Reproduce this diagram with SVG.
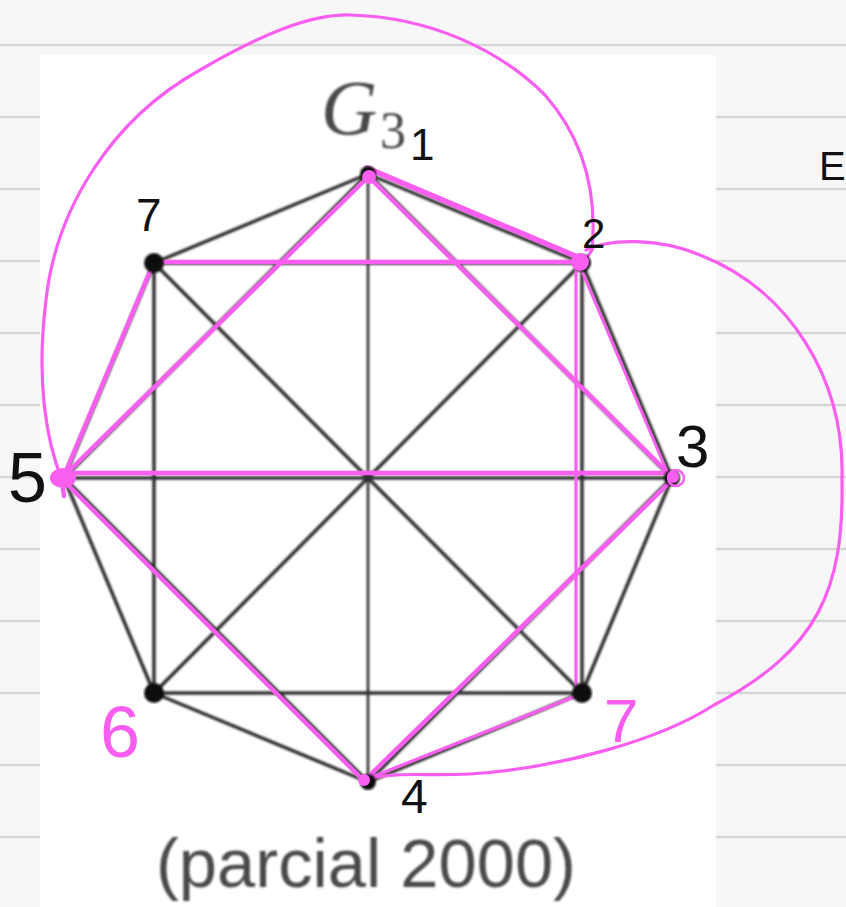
<svg xmlns="http://www.w3.org/2000/svg" width="846" height="907" viewBox="0 0 846 907">
<defs>
<style>
.rule{stroke:#d6d6d6;stroke-width:2.5}
.bk{stroke:#2e2e2e;stroke-width:3.5;stroke-linecap:round;fill:none}
.bkt{stroke:#2e2e2e;stroke-width:2.6;fill:none}
.dot{fill:#111}
.mg{stroke:#f95ef0;stroke-width:4.5;stroke-linecap:round;stroke-linejoin:round;fill:none}
.mgc{stroke:#f95ef0;stroke-width:3.2;stroke-linecap:round;fill:none}
.mdot{fill:#f95ef0}
.hw{font-family:"Liberation Sans",Arial,sans-serif;fill:#111}
.hwm{font-family:"Liberation Sans",Arial,sans-serif;fill:#f95ef0}
.print{fill:#4a4a4a}
</style>
<filter id="soft" x="-5%" y="-5%" width="110%" height="110%"><feGaussianBlur stdDeviation="0.9"/></filter>
<filter id="softer" x="-5%" y="-5%" width="110%" height="110%"><feGaussianBlur stdDeviation="1.3"/></filter>
</defs>
<rect x="0" y="0" width="846" height="907" fill="#f7f7f7"/>
<g id="ruling">
<line class="rule" x1="0" y1="45" x2="846" y2="45"/>
<line class="rule" x1="0" y1="117" x2="846" y2="117"/>
<line class="rule" x1="0" y1="189" x2="846" y2="189"/>
<line class="rule" x1="0" y1="261" x2="846" y2="261"/>
<line class="rule" x1="0" y1="333" x2="846" y2="333"/>
<line class="rule" x1="0" y1="405" x2="846" y2="405"/>
<line class="rule" x1="0" y1="477" x2="846" y2="477"/>
<line class="rule" x1="0" y1="549" x2="846" y2="549"/>
<line class="rule" x1="0" y1="621" x2="846" y2="621"/>
<line class="rule" x1="0" y1="693" x2="846" y2="693"/>
<line class="rule" x1="0" y1="765" x2="846" y2="765"/>
<line class="rule" x1="0" y1="837" x2="846" y2="837"/>
</g>
<rect x="40" y="55" width="676" height="852" fill="#ffffff"/>

<g id="connectors">
<g id="black-edges" filter="url(#soft)">
<line class="bk" x1="368" y1="174" x2="154" y2="263"/>
<line class="bk" x1="368" y1="174" x2="582" y2="263"/>
<line class="bk" x1="154" y1="263" x2="64" y2="478"/>
<line class="bk" x1="582" y1="263" x2="672" y2="478"/>
<line class="bk" x1="64" y1="478" x2="154" y2="693"/>
<line class="bk" x1="672" y1="478" x2="582" y2="693"/>
<line class="bk" x1="154" y1="693" x2="368" y2="782"/>
<line class="bk" x1="582" y1="693" x2="368" y2="782"/>
<line class="bk" x1="154" y1="263" x2="582" y2="263"/>
<line class="bk" x1="154" y1="263" x2="154" y2="693"/>
<line class="bk" x1="582" y1="263" x2="582" y2="693"/>
<line class="bk" x1="154" y1="693" x2="582" y2="693"/>
<line class="bkt" x1="368" y1="174" x2="368" y2="782"/>
<line class="bk" x1="64" y1="478" x2="672" y2="478"/>
<line class="bk" x1="154" y1="263" x2="582" y2="693"/>
<line class="bk" x1="582" y1="263" x2="154" y2="693"/>
<line class="bk" x1="368" y1="174" x2="64" y2="478"/>
<line class="bk" x1="368" y1="174" x2="672" y2="478"/>
<line class="bk" x1="64" y1="478" x2="368" y2="782"/>
<line class="bk" x1="672" y1="478" x2="368" y2="782"/>
</g>
<g id="pink-edges">
<line class="mg" x1="367" y1="168" x2="580" y2="258" style="stroke-width:5.5"/>
<line class="mg" x1="368" y1="177" x2="63" y2="477"/>
<line class="mg" x1="369" y1="177" x2="669" y2="474"/>
<line class="mg" x1="154" y1="262" x2="578" y2="262"/>
<line class="mg" x1="154" y1="262" x2="64" y2="476"/>
<line class="mg" x1="579" y1="264" x2="668" y2="474" style="stroke-width:3"/>
<path class="mg" d="M576,264 V696 L372,777" style="stroke-width:3.2"/>
<line class="mg" x1="66" y1="473" x2="670" y2="473"/>
<line class="mg" x1="63" y1="480" x2="361" y2="778"/>
<line class="mg" x1="672" y1="480" x2="367" y2="778"/>
<path class="mgc" d="M62,480 C46,440 36,380 46,300 C56,210 110,120 200,70 C260,35 310,14 350,15 C430,17 500,50 545,95 C580,135 598,185 592,250 L584,262"/>
<path class="mgc" d="M586,250 C610,238 660,238 700,255 C790,290 845,380 842,480 C844,590 818,650 714,705 C660,740 560,768 470,774 C430,776 395,772 372,778"/>
</g>
</g>

<g id="v1"><circle class="dot" cx="368" cy="174" r="8" filter="url(#soft)"/><circle class="mdot" cx="369" cy="177" r="7"/></g>
<g id="v2"><circle class="dot" cx="582" cy="263" r="9" filter="url(#soft)"/><circle class="mdot" cx="580" cy="262" r="9"/></g>
<g id="v3"><circle class="dot" cx="672" cy="478" r="8" filter="url(#soft)"/><circle class="mdot" cx="673" cy="477" r="6"/><circle cx="676" cy="478" r="8" fill="none" stroke="#f95ef0" stroke-width="2.5"/></g>
<g id="v4"><circle class="dot" cx="368" cy="782" r="8" filter="url(#soft)"/><circle class="mdot" cx="364" cy="780" r="6"/></g>
<g id="v5"><circle class="dot" cx="64" cy="478" r="8" filter="url(#soft)"/><ellipse class="mdot" cx="63" cy="478" rx="13" ry="10"/><line class="mg" x1="62" y1="482" x2="64" y2="496"/></g>
<g id="v6"><circle class="dot" cx="154" cy="693" r="10" filter="url(#soft)"/></g>
<g id="v7"><circle class="dot" cx="582" cy="693" r="10" filter="url(#soft)"/></g>
<g id="v8"><circle class="dot" cx="154" cy="263" r="10" filter="url(#soft)"/></g>

<g id="title" filter="url(#softer)">
<text class="print" x="321" y="134" font-family="Liberation Serif, serif" font-style="italic" font-size="78">G</text>
<text class="print" x="380" y="148" font-family="Liberation Serif, serif" font-size="52">3</text>
</g>
<g id="caption" filter="url(#softer)">
<text class="print" x="156" y="887" font-family="Liberation Sans, Arial, sans-serif" font-size="68" textLength="420" lengthAdjust="spacingAndGlyphs">(parcial 2000)</text>
</g>

<g id="labels">
<text class="hw" x="410" y="160" font-size="44">1</text>
<text class="hw" x="136" y="231" font-size="46">7</text>
<text class="hw" x="582" y="248" font-size="42">2</text>
<text class="hw" x="676" y="467" font-size="60">3</text>
<text class="hw" x="8" y="502" font-size="70">5</text>
<text class="hw" x="401" y="813" font-size="48">4</text>
<text class="hwm" x="100" y="757" font-size="72">6</text>
<text class="hwm" x="604" y="742" font-size="62">7</text>
<text class="hw" x="819" y="180" font-size="40">E</text>
</g>
</svg>
